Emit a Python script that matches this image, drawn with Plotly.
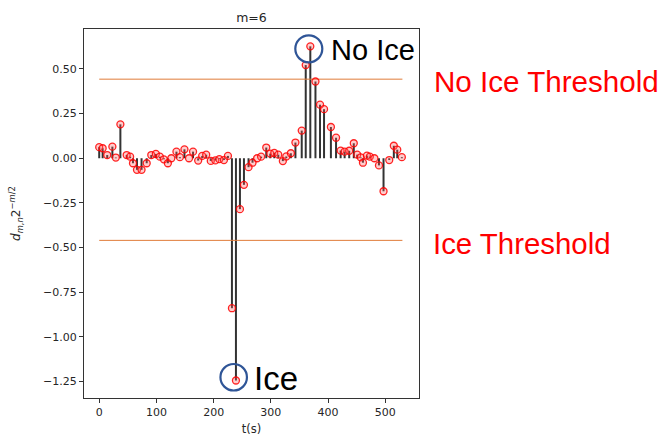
import plotly.graph_objects as go

# ---- data ----
t = [0, 6, 14, 23, 29, 37, 48, 54, 59, 66, 74, 83, 91, 99, 106, 113, 120, 126,
     135, 141, 149, 157, 164, 173, 180, 187, 195, 203, 210, 218, 225, 232, 239,
     246, 253, 261, 268, 276, 283, 292, 299, 306, 313, 321, 327, 335, 343, 354,
     361, 369, 378, 386, 393, 405, 414, 422, 429, 437, 445, 451, 457, 461, 468,
     473, 481, 489, 497, 507, 515, 521, 529]
d = [0.062, 0.056, 0.018, 0.065, 0.004, 0.19, 0.018, 0.009, -0.028, -0.065,
     -0.065, -0.028, 0.018, 0.024, 0.009, -0.006, -0.028, 0.0, 0.037, 0.006,
     0.05, 0.0, 0.037, -0.013, 0.013, 0.02, -0.015, -0.012, -0.005, -0.01,
     0.013, -0.84, -1.245, -0.285, -0.149, -0.05, -0.025, 0.0, 0.009, 0.06,
     0.026, 0.03, 0.02, -0.016, 0.01, 0.028, 0.088, 0.155, 0.522, 0.627, 0.43,
     0.30, 0.275, 0.175, 0.115, 0.043, 0.037, 0.042, 0.084, 0.02, 0.005,
     -0.025, 0.015, 0.009, 0.0, -0.04, -0.185, -0.01, 0.07, 0.048, 0.006]

no_ice_threshold = 0.443
ice_threshold = -0.46
threshold_t = [0, 530]

x_ticks = [0, 100, 200, 300, 400, 500]
y_ticks = [0.5, 0.25, 0.0, -0.25, -0.5, -0.75, -1.0, -1.25]

title = "m=6"
x_label = "t(s)"
y_label = "<i>d</i><sub><i>m,n</i></sub>2<sup>−<i>m</i>/2</sup>"

# ---- figure ----
stem_x, stem_y = [], []
for ti, di in zip(t, d):
    stem_x += [ti, ti, None]
    stem_y += [0, di, None]

fig = go.Figure()
fig.add_trace(go.Scatter(x=stem_x, y=stem_y, mode="lines",
                         line=dict(color="#333333", width=2),
                         hoverinfo="skip", showlegend=False))
fig.add_trace(go.Scatter(x=threshold_t, y=[no_ice_threshold] * 2, mode="lines",
                         line=dict(color="#e07b39", width=1), showlegend=False))
fig.add_trace(go.Scatter(x=threshold_t, y=[ice_threshold] * 2, mode="lines",
                         line=dict(color="#e07b39", width=1), showlegend=False))
fig.add_trace(go.Scatter(x=t, y=d, mode="markers",
                         marker=dict(symbol="circle", size=7,
                                     color="rgba(255,90,90,0.30)",
                                     line=dict(color="rgba(255,0,0,0.85)", width=1.3)),
                         showlegend=False))

# index of extreme points for highlight circles
i_max = d.index(max(d))
i_min = d.index(min(d))

fig.add_shape(type="circle", xref="x", yref="y", xsizemode="pixel", ysizemode="pixel",
              xanchor=t[i_max], yanchor=d[i_max], x0=-15, x1=12, y0=-16, y1=11,
              line=dict(color="#2f5597", width=2.2))
fig.add_shape(type="circle", xref="x", yref="y", xsizemode="pixel", ysizemode="pixel",
              xanchor=t[i_min], yanchor=d[i_min], x0=-15.5, x1=11, y0=-10, y1=16.5,
              line=dict(color="#2f5597", width=2.2))

L, R, T, B = 84, 419, 29, 398
def px(x):
    return (x - L) / (R - L)
def py(y):
    return (B - y) / (B - T)

fig.add_annotation(text="No Ice", x=px(329), y=py(50), xref="paper", yref="paper",
                   xanchor="left", yanchor="middle", showarrow=False,
                   font=dict(family="Liberation Sans", size=29, color="black"))
fig.add_annotation(text="Ice", x=px(252), y=py(378), xref="paper", yref="paper",
                   xanchor="left", yanchor="middle", showarrow=False,
                   font=dict(family="Liberation Sans", size=33, color="black"))
fig.add_annotation(text="No Ice Threshold", x=px(432), y=py(81), xref="paper", yref="paper",
                   xanchor="left", yanchor="middle", showarrow=False,
                   font=dict(family="Liberation Sans", size=29.6, color="#ff0000"))
fig.add_annotation(text="Ice Threshold", x=px(431), y=py(243), xref="paper", yref="paper",
                   xanchor="left", yanchor="middle", showarrow=False,
                   font=dict(family="Liberation Sans", size=29.4, color="#ff0000"))

fig.update_layout(
    width=667, height=447,
    margin=dict(l=L, r=667 - R, t=T, b=447 - B),
    paper_bgcolor="white", plot_bgcolor="white",
    font=dict(family="DejaVu Sans", size=11, color="#262626"),
    title=dict(text=title, x=(L + R) / 2 / 667, xanchor="center",
               y=1 - 18 / 447, yanchor="middle", yref="container",
               font=dict(size=12.5, color="#262626")),
)
fig.update_xaxes(range=[-26.6, 559], tickvals=x_ticks, ticks="outside", ticklen=4,
                 tickcolor="#333", showline=True, linecolor="#333", linewidth=1,
                 mirror=True, showgrid=False, zeroline=False,
                 title=dict(text=x_label, standoff=6, font=dict(size=11.5)))
fig.update_yaxes(range=[-1.343, 0.724], tickvals=y_ticks, tickformat=".2f",
                 ticks="outside", ticklen=4, tickcolor="#333",
                 showline=True, linecolor="#333", linewidth=1, mirror=True,
                 showgrid=False, zeroline=False,
                 title=dict(text=y_label, standoff=19, font=dict(size=12)))

fig.write_html("out.html")
